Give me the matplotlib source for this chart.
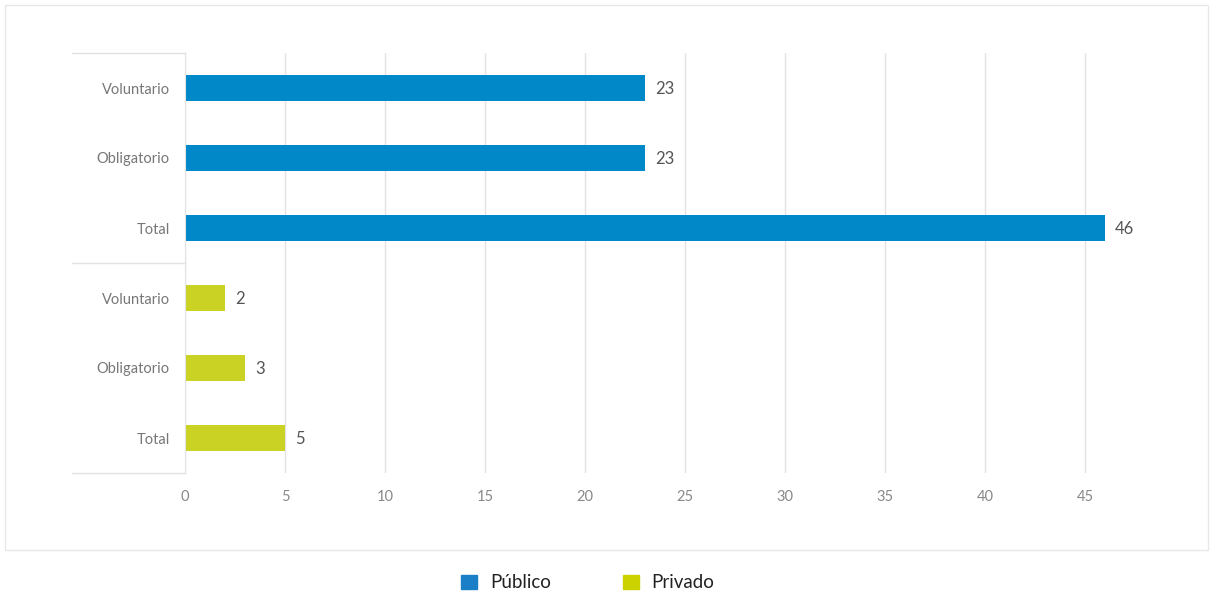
import matplotlib.pyplot as plt
from matplotlib.patches import Rectangle
from matplotlib.lines import Line2D

plt.rcParams['font.family'] = ['Lato', 'DejaVu Sans']

labels = ["Voluntario", "Obligatorio", "Total"]
publico = [23, 23, 46]
privado = [2, 3, 5]
xticks = [0, 5, 10, 15, 20, 25, 30, 35, 40, 45]

BLUE = "#0088c9"
GREEN = "#cad223"
GRID = "#e3e3e3"

W, H = 1210, 595
fig = plt.figure(figsize=(W / 100, H / 100), dpi=100)
fig.patch.set_facecolor("white")

# outer light frame
fig.patches.append(Rectangle((5 / W, 1 - 550 / H), 1203 / W, 545 / H,
                             transform=fig.transFigure, fill=False,
                             edgecolor="#e8e8e8", linewidth=1))

ax = fig.add_axes([185 / W, 1 - 473 / H, 960 / W, 420 / H])

all_labels = labels + labels
values = publico + privado
colors = [BLUE] * len(publico) + [GREEN] * len(privado)
ypos = list(range(len(values)))

ax.barh(ypos, values, height=0.36, color=colors, zorder=3)
for y, v in zip(ypos, values):
    ax.text(v + 0.5, y, str(v), va="center_baseline", ha="left",
            fontsize=12, color="#555555")

ax.set_ylim(len(values) - 0.5, -0.5)
ax.set_xlim(0, 48)
ax.set_yticks(ypos)
ax.set_yticklabels(all_labels, fontsize=10.5, color="#777777")
ax.set_xticks(xticks)
ax.set_xticklabels([str(t) for t in xticks], fontsize=10.5, color="#888888")
ax.tick_params(length=0)
ax.tick_params(axis="y", pad=11)
ax.tick_params(axis="x", pad=12)

ax.grid(axis="x", color=GRID, linewidth=1, zorder=0)
for s in ["top", "right", "bottom"]:
    ax.spines[s].set_visible(False)
ax.spines["left"].set_color(GRID)
ax.spines["left"].set_zorder(4)

# group separator lines left of the axis
for yb in [-0.5, 2.5, 5.5]:
    ax.add_line(Line2D([-113 / 960, 0], [yb, yb], color=GRID, linewidth=1,
                       transform=ax.get_yaxis_transform(), clip_on=False))

# legend
handles = [Rectangle((0, 0), 1, 1, color="#1a7fc6"),
           Rectangle((0, 0), 1, 1, color="#cbd200")]
fig.legend(handles, ["Público", "Privado"], loc="center",
           bbox_to_anchor=(588 / W, 1 - 583 / H), ncol=2, frameon=False,
           fontsize=13.5, handlelength=0.85, handleheight=0.85,
           columnspacing=3.8, handletextpad=0.7, labelcolor="#222222")

fig.savefig("out.png", dpi=100, facecolor="white")
